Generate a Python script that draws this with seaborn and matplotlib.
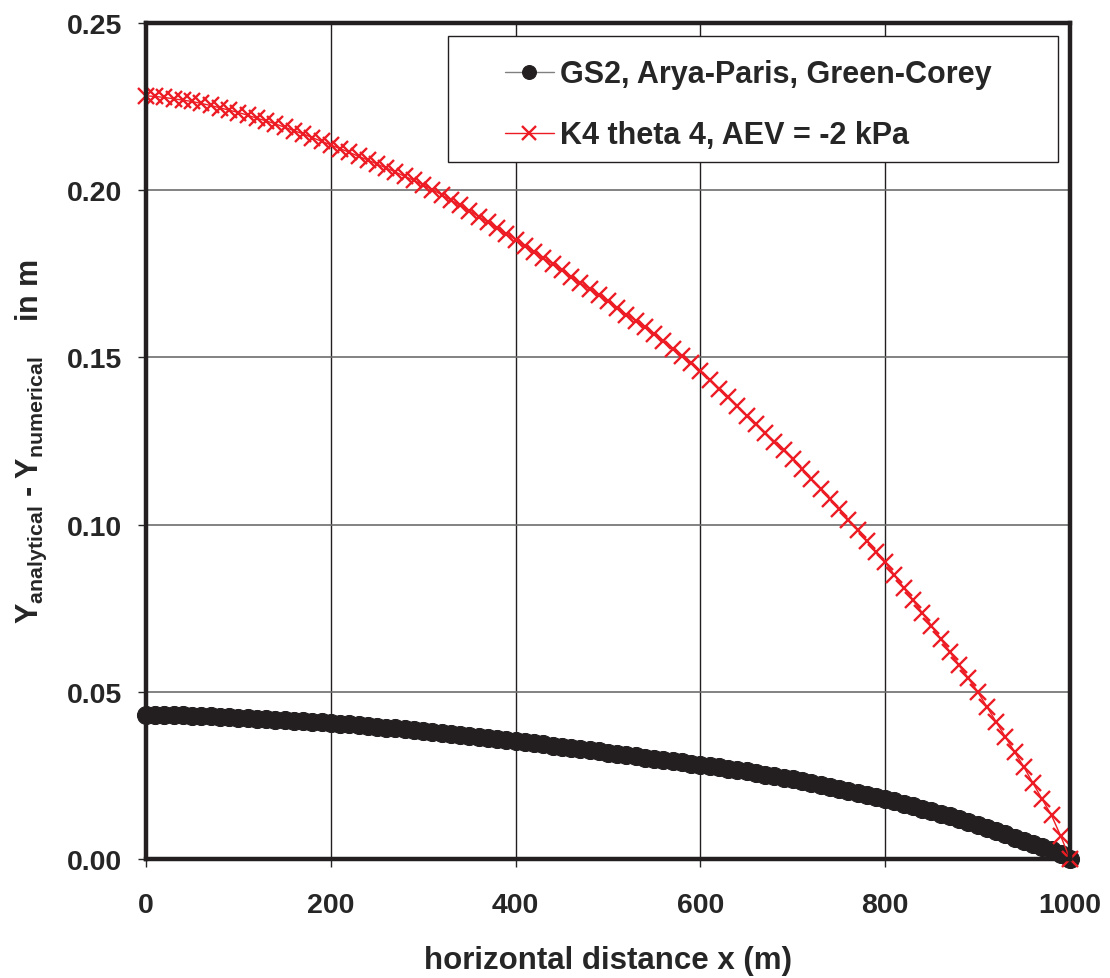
import numpy as np
import pandas as pd
import matplotlib
matplotlib.use('Agg')
import matplotlib.pyplot as plt
from matplotlib.patches import Rectangle
import seaborn as sns

# ==========================================
# data (10 m spacing)
# ==========================================
x_dist = list(range(0, 1001, 10))

gs2_diff = [
    0.0430, 0.0430, 0.0430, 0.0429, 0.0429, 0.0428, 0.0427, 0.0426, 0.0425, 0.0423,
    0.0422, 0.0421, 0.0419, 0.0418, 0.0416, 0.0415, 0.0413, 0.0412, 0.0410, 0.0409,
    0.0407, 0.0405, 0.0403, 0.0400, 0.0398, 0.0396, 0.0393, 0.0391, 0.0388, 0.0386,
    0.0383, 0.0380, 0.0377, 0.0375, 0.0372, 0.0369, 0.0366, 0.0363, 0.0359, 0.0356,
    0.0353, 0.0350, 0.0346, 0.0343, 0.0339, 0.0336, 0.0332, 0.0329, 0.0325, 0.0322,
    0.0318, 0.0314, 0.0310, 0.0307, 0.0303, 0.0299, 0.0296, 0.0292, 0.0289, 0.0285,
    0.0282, 0.0278, 0.0274, 0.0270, 0.0266, 0.0262, 0.0257, 0.0252, 0.0248, 0.0243,
    0.0238, 0.0233, 0.0227, 0.0222, 0.0216, 0.0210, 0.0204, 0.0198, 0.0192, 0.0185,
    0.0179, 0.0172, 0.0165, 0.0158, 0.0150, 0.0143, 0.0135, 0.0127, 0.0118, 0.0110,
    0.0101, 0.0092, 0.0083, 0.0074, 0.0064, 0.0055, 0.0046, 0.0037, 0.0027, 0.0016,
    0.0000,
]

k4_diff = [
    0.2282, 0.2280, 0.2277, 0.2273, 0.2269, 0.2265, 0.2259, 0.2253, 0.2246, 0.2239,
    0.2232, 0.2224, 0.2215, 0.2207, 0.2198, 0.2188, 0.2178, 0.2168, 0.2157, 0.2146,
    0.2135, 0.2124, 0.2113, 0.2101, 0.2090, 0.2078, 0.2066, 0.2054, 0.2041, 0.2029,
    0.2016, 0.2001, 0.1986, 0.1970, 0.1954, 0.1938, 0.1921, 0.1904, 0.1887, 0.1870,
    0.1852, 0.1834, 0.1816, 0.1797, 0.1779, 0.1760, 0.1741, 0.1723, 0.1704, 0.1686,
    0.1667, 0.1647, 0.1628, 0.1609, 0.1590, 0.1570, 0.1548, 0.1526, 0.1504, 0.1482,
    0.1460, 0.1433, 0.1406, 0.1380, 0.1353, 0.1326, 0.1300, 0.1274, 0.1248, 0.1222,
    0.1196, 0.1166, 0.1137, 0.1107, 0.1077, 0.1047, 0.1015, 0.0983, 0.0951, 0.0919,
    0.0887, 0.0849, 0.0811, 0.0774, 0.0736, 0.0698, 0.0658, 0.0619, 0.0579, 0.0540,
    0.0500, 0.0455, 0.0410, 0.0365, 0.0320, 0.0275, 0.0226, 0.0178, 0.0130, 0.0068,
    0.0000,
]

label_gs2 = 'GS2, Arya-Paris, Green-Corey'
label_k4 = 'K4 theta 4, AEV = -2 kPa'

x_ticks = [0, 200, 400, 600, 800, 1000]
y_ticks = [0.00, 0.05, 0.10, 0.15, 0.20, 0.25]

# ==========================================
# style
# ==========================================
sns.set_style('ticks')
plt.rcParams['font.family'] = ['Liberation Sans', 'DejaVu Sans']
plt.rcParams['font.weight'] = 'bold'
plt.rcParams['mathtext.fontset'] = 'custom'
plt.rcParams['mathtext.rm'] = 'Liberation Sans:bold'
plt.rcParams['mathtext.bf'] = 'Liberation Sans:bold'
plt.rcParams['mathtext.it'] = 'Liberation Sans:bold'

df_gs2 = pd.DataFrame({'x': x_dist, 'diff': gs2_diff})
df_k4 = pd.DataFrame({'x': x_dist, 'diff': k4_diff})

fig = plt.figure(figsize=(11.1, 9.79), dpi=100)
ax = fig.add_axes([0.1315, 0.1216, 0.8325, 0.854])

sns.lineplot(data=df_gs2, x='x', y='diff', ax=ax, color='#808080', linewidth=1.0,
             marker='o', markersize=13, markerfacecolor='#231f20', markeredgecolor='#231f20',
             label=label_gs2, clip_on=False, zorder=3)
sns.lineplot(data=df_k4, x='x', y='diff', ax=ax, color='#ed1c24', linewidth=1.0,
             marker='x', markersize=11.5, markeredgewidth=1.7, markeredgecolor='#ed1c24',
             label=label_k4, clip_on=False, zorder=4)

ax.set_xlim(0, 1000)
ax.set_ylim(0, 0.25)
ax.set_xticks(x_ticks)
ax.set_yticks(y_ticks)
ax.set_yticklabels([f'{v:.2f}' for v in y_ticks])
ax.tick_params(axis='both', labelsize=20.5, direction='out', length=6, width=1)
ax.tick_params(axis='x', pad=18)
ax.tick_params(axis='y', pad=11)

ax.grid(True, which='major', axis='x', color='#231f20', linewidth=1.0)
ax.grid(True, which='major', axis='y', color='#6d6d6d', linewidth=1.2)
for sp in ax.spines.values():
    sp.set_visible(True)
    sp.set_linewidth(3.2)
    sp.set_color('#231f20')
    sp.set_zorder(5)

ax.set_xlabel('horizontal distance x (m)', fontsize=22.5, fontweight='bold', labelpad=19)
ax.set_ylabel(r'Y$_{\mathrm{analytical}}$ - Y$_{\mathrm{numerical}}$    in m',
              fontsize=22, fontweight='bold', labelpad=13)

# legend: plain white box with a thin black frame, entries placed inside
frame = Rectangle((0.3268, 0.8337), 0.6602, 0.1507, transform=ax.transAxes,
                  facecolor='white', edgecolor='#231f20', linewidth=1.0, zorder=6)
ax.add_patch(frame)
leg = ax.legend(loc='upper left', bbox_to_anchor=(0.3885, 0.9565), fontsize=22,
                frameon=False, borderpad=0, labelspacing=1.02, handlelength=1.6,
                handletextpad=0.2, borderaxespad=0)
leg.set_zorder(7)
for t in leg.get_texts():
    t.set_fontweight('bold')
leg.legend_handles[0].set_markersize(10)
leg.legend_handles[1].set_markersize(10)

fig.savefig('out.png', dpi=100)
